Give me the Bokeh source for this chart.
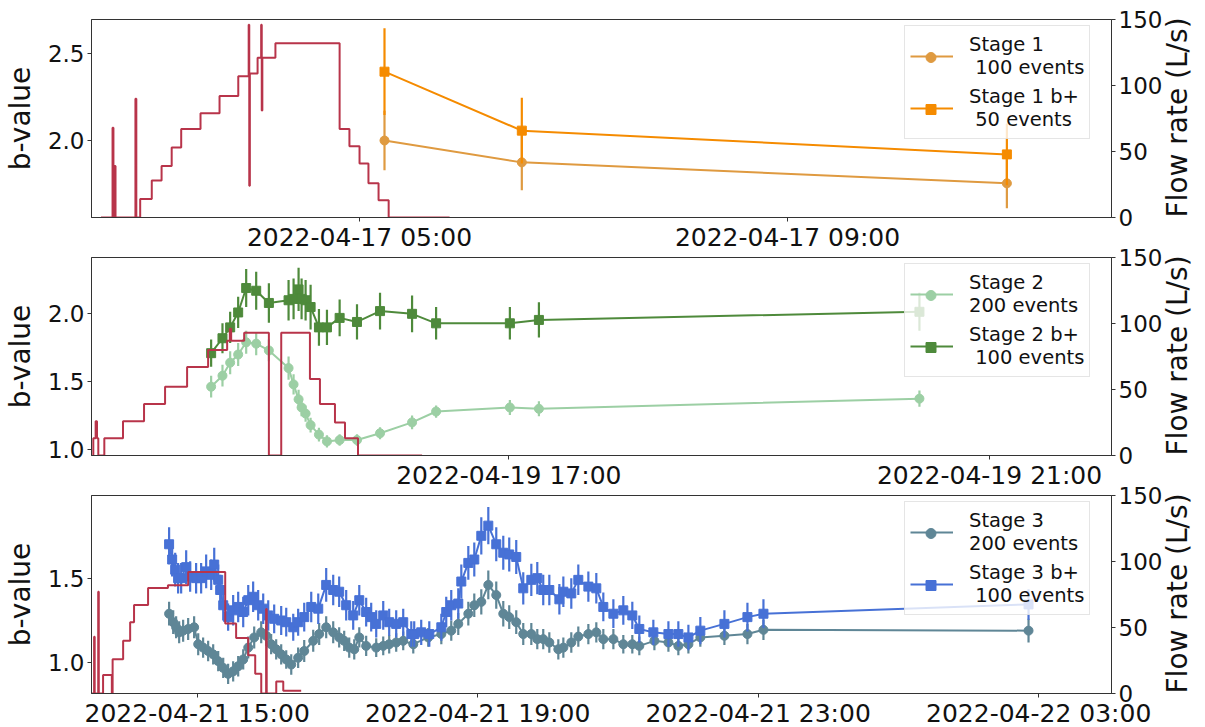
import numpy as np
import pandas as pd
from bokeh.plotting import figure
from bokeh.models import (Range1d, LinearAxis, FixedTicker, SingleIntervalTicker,
                          DatetimeTickFormatter, PrintfTickFormatter, Legend, LegendItem)
from bokeh.layouts import column
from bokeh.embed import file_html
from bokeh.resources import INLINE

FONT = "DejaVu Sans"
FLOW_COLOR = "#b8344a"

# ---------------- Stage 1 (2022-04-17) ----------------
stage1_day = "2022-04-17"
stage1_times = ["05:14", "06:31", "11:03"]
stage1_b = [2.000, 1.874, 1.753]
stage1_err = [0.172, 0.161, 0.144]
stage1_bplus = [2.397, 2.057, 1.920]
stage1_bplus_err = [0.250, 0.190, 0.178]

flow1_times = ["02:35:00", "02:41:30", "02:42:00", "02:42:40", "02:43:10", "02:54:20",
               "02:54:50", "02:57:00", "03:03:30", "03:09:00", "03:14:40", "03:20:00",
               "03:30:50", "03:41:30", "03:52:00", "03:57:50", "03:58:10", "03:58:30",
               "04:02:50", "04:04:50", "04:05:10", "04:05:30", "04:12:50", "04:48:50",
               "04:54:20", "05:00:00", "05:05:00", "05:10:40", "05:16:20", "05:50:30"]
flow1_rate = [0, 68, 0, 39, 0, 90, 0, 14, 28, 39, 53, 67, 79, 92, 107, 146, 24, 109,
              121, 146, 81, 121, 132, 67, 54, 41, 26, 13, 0, 0]

# ---------------- Stage 2 (2022-04-19) ----------------
stage2_day = "2022-04-19"
stage2_times = ["14:31:20", "14:37:00", "14:40:50", "14:44:50", "14:48:50", "14:53:50",
                "15:00:10", "15:10:00", "15:12:30", "15:15:00", "15:16:30", "15:18:30",
                "15:21:00", "15:25:10", "15:29:10", "15:35:30", "15:44:10", "15:55:40",
                "16:11:40", "16:23:40", "17:00:30", "17:15:00", "20:25:00"]
stage2_b = [1.463, 1.544, 1.64, 1.70, 1.79, 1.78, 1.73, 1.60, 1.48, 1.37, 1.31, 1.265,
            1.18, 1.11, 1.06, 1.07, 1.07, 1.12, 1.20, 1.28, 1.31, 1.30, 1.375]
stage2_err = [0.08, 0.08, 0.085, 0.085, 0.085, 0.085, 0.08, 0.085, 0.075, 0.07, 0.065, 0.06,
              0.055, 0.05, 0.045, 0.043, 0.043, 0.045, 0.05, 0.045, 0.055, 0.055, 0.06]
stage2_bplus = [1.71, 1.82, 1.90, 2.01, 2.19, 2.17, 2.08, 2.10, 2.11, 2.18, 2.11, 2.10,
                2.05, 1.90, 1.90, 1.97, 1.94, 2.02, 2.00, 1.93, 1.93, 1.955, 2.015]
stage2_bplus_err = [0.10, 0.11, 0.115, 0.115, 0.14, 0.14, 0.145, 0.15, 0.15, 0.16, 0.15, 0.15,
                    0.165, 0.135, 0.13, 0.135, 0.13, 0.135, 0.135, 0.12, 0.12, 0.13, 0.14]

flow2_times = ["13:32:00", "13:32:30", "13:33:40", "13:34:20", "13:35:00", "13:38:00",
               "13:47:20", "13:57:50", "14:08:20", "14:19:20", "14:29:50", "14:39:20",
               "14:40:40", "14:41:20", "14:47:50", "15:00:10", "15:06:20", "15:20:40",
               "15:25:40", "15:33:10", "15:38:10", "15:44:40", "16:16:40"]
flow2_rate = [0, 13, 26, 13, 0, 13, 26, 39, 52, 67, 80, 87, 96, 87, 93, 0, 93, 58, 39, 25,
              13, 0, 0]

# ---------------- Stage 3 (2022-04-21 / 22) ----------------
stage3_t0 = "2022-04-21 15:00"
# minutes elapsed since stage3_t0
stage3_minutes = [-24.0, -20.5, -18.0, -15.4, -12.0, -7.7, -2.6, 0.9, 5.1, 9.4,
                  13.7, 18.0, 22.3, 26.5, 30.8, 35.1, 39.4, 43.7, 48.8, 54.8,
                  59.1, 63.3, 67.6, 71.9, 76.2, 80.5, 86.4, 91.6, 99.3, 104.4,
                  110.4, 116.4, 121.5, 125.8, 130.1, 134.4, 138.7, 144.6, 153.2, 159.2,
                  164.3, 170.3, 176.3, 184.9, 197.7, 208.9, 217.4, 223.4, 232.0, 237.1,
                  243.1, 249.1, 255.9, 261.9, 267.0, 273.0, 279.0, 285.9, 291.0, 296.1,
                  301.3, 309.0, 313.3, 320.1, 326.1, 334.7, 341.5, 347.5, 356.1, 364.6,
                  372.3, 378.3, 391.2, 403.2, 411.7, 420.3, 430.5, 451.1, 470.8, 484.5,
                  711.3]
stage3_b = [1.29, 1.24, 1.21, 1.18, 1.19, 1.20, 1.21, 1.11, 1.09, 1.07,
            1.05, 1.01, 0.97, 0.935, 0.95, 0.98, 1.02, 1.09, 1.15, 1.18,
            1.16, 1.11, 1.08, 1.05, 1.02, 0.99, 1.03, 1.07, 1.13, 1.17,
            1.21, 1.18, 1.15, 1.13, 1.09, 1.08, 1.15, 1.10, 1.09, 1.10,
            1.11, 1.12, 1.13, 1.11, 1.15, 1.17, 1.19, 1.23, 1.29, 1.34,
            1.36, 1.46, 1.40, 1.29, 1.27, 1.24, 1.17, 1.17, 1.14, 1.14,
            1.12, 1.08, 1.09, 1.12, 1.155, 1.17, 1.18, 1.14, 1.14, 1.11,
            1.11, 1.10, 1.13, 1.12, 1.10, 1.11, 1.15, 1.16, 1.17, 1.195,
            1.19]
stage3_err = [0.07, 0.07, 0.065, 0.065, 0.065, 0.065, 0.065, 0.065, 0.06, 0.06,
              0.06, 0.06, 0.06, 0.06, 0.06, 0.06, 0.06, 0.065, 0.065, 0.065,
              0.06, 0.06, 0.06, 0.06, 0.055, 0.06, 0.06, 0.065, 0.065, 0.065,
              0.065, 0.065, 0.06, 0.06, 0.06, 0.06, 0.06, 0.06, 0.055, 0.055,
              0.055, 0.055, 0.055, 0.055, 0.055, 0.06, 0.06, 0.065, 0.07, 0.07,
              0.075, 0.085, 0.08, 0.075, 0.07, 0.07, 0.065, 0.065, 0.06, 0.06,
              0.06, 0.06, 0.06, 0.06, 0.06, 0.06, 0.06, 0.06, 0.06, 0.055,
              0.055, 0.055, 0.055, 0.055, 0.055, 0.055, 0.055, 0.055, 0.06, 0.06,
              0.07]
stage3_bplus_minutes = [-24.0, -21.4, -18.8, -16.3, -13.7, -9.4, -6.0, -0.9, 3.4, 7.7,
                        12.0, 14.6, 18.0, 19.7, 22.3, 26.5, 30.8, 35.1, 39.4, 43.7,
                        47.9, 52.2, 56.5, 60.8, 65.9, 71.9, 76.2, 82.2, 86.4, 91.6,
                        97.6, 103.6, 110.4, 116.4, 121.5, 127.5, 133.5, 138.7, 144.6, 148.9,
                        153.2, 159.2, 164.3, 170.3, 176.3, 183.2, 185.7, 191.7, 198.6, 208.9,
                        213.1, 217.4, 223.4, 226.0, 232.0, 237.1, 243.1, 249.1, 255.9, 261.9,
                        267.0, 273.0, 279.0, 285.9, 291.0, 296.1, 301.3, 309.9, 313.3, 320.1,
                        326.1, 334.7, 341.5, 347.5, 356.1, 364.6, 372.3, 378.3, 390.3, 403.2,
                        411.7, 420.3, 430.5, 451.1, 470.8, 484.5, 711.3]
stage3_bplus = [1.70, 1.61, 1.55, 1.50, 1.50, 1.565, 1.51, 1.50, 1.50, 1.54,
                1.52, 1.58, 1.49, 1.43, 1.34, 1.27, 1.31, 1.33, 1.30, 1.37,
                1.39, 1.34, 1.32, 1.28, 1.26, 1.25, 1.24, 1.21, 1.24, 1.27,
                1.33, 1.32, 1.46, 1.43, 1.42, 1.34, 1.28, 1.37, 1.30, 1.27,
                1.23, 1.28, 1.24, 1.23, 1.24, 1.17, 1.17, 1.18, 1.17, 1.21,
                1.30, 1.34, 1.35, 1.48, 1.59, 1.61, 1.75, 1.81, 1.70, 1.65,
                1.64, 1.625, 1.44, 1.49, 1.50, 1.43, 1.43, 1.375, 1.42, 1.41,
                1.49, 1.45, 1.44, 1.33, 1.29, 1.31, 1.28, 1.20, 1.18, 1.17,
                1.17, 1.15, 1.19, 1.23, 1.27, 1.29, 1.345]
stage3_bplus_err = [0.10, 0.10, 0.10, 0.09, 0.09, 0.10, 0.09, 0.09, 0.09, 0.10,
                    0.09, 0.10, 0.09, 0.09, 0.09, 0.08, 0.09, 0.09, 0.09, 0.09,
                    0.09, 0.09, 0.09, 0.09, 0.085, 0.085, 0.085, 0.08, 0.08, 0.085,
                    0.09, 0.09, 0.10, 0.09, 0.09, 0.09, 0.085, 0.09, 0.085, 0.085,
                    0.08, 0.085, 0.08, 0.08, 0.08, 0.075, 0.075, 0.075, 0.075, 0.08,
                    0.09, 0.09, 0.09, 0.10, 0.10, 0.10, 0.11, 0.11, 0.10, 0.10,
                    0.10, 0.10, 0.095, 0.095, 0.095, 0.09, 0.09, 0.09, 0.09, 0.09,
                    0.09, 0.09, 0.09, 0.085, 0.085, 0.085, 0.08, 0.08, 0.075, 0.075,
                    0.075, 0.075, 0.08, 0.08, 0.085, 0.085, 0.09]

flow3_day = "2022-04-21"
flow3_times = ["13:30:00", "13:31:50", "13:32:20", "13:35:20", "13:35:50", "13:39:30",
               "13:47:00", "13:47:40", "13:56:40", "14:02:40", "14:06:00", "14:18:00",
               "14:35:00", "14:52:20", "15:24:00", "15:33:20", "15:43:40", "15:49:40",
               "15:54:50", "15:59:00", "15:59:30", "16:07:40", "16:13:40", "16:29:00"]
flow3_rate = [0, 43, 0, 77, 0, 14, 0, 26, 40, 54, 67, 80, 82, 92, 53, 42, 29, 15, 0, 64,
              0, 9, 2, 2]

# ---------------- axes: spans and tick labels ----------------
panel1_span = ("2022-04-17 02:29:42", "2022-04-17 12:01:40")
panel2_span = ("2022-04-19 13:31:36", "2022-04-19 22:00:54")
panel3_span = ("2022-04-21 13:29:36", "2022-04-22 04:02:17")
panel1_ticks = ["2022-04-17 05:00", "2022-04-17 09:00"]
panel2_ticks = ["2022-04-19 17:00", "2022-04-19 21:00"]
panel3_ticks = ["2022-04-21 15:00", "2022-04-21 19:00", "2022-04-21 23:00", "2022-04-22 03:00"]
bvalue_spans = [(1.556, 2.698), (0.956, 2.415), (0.819, 1.988)]

FRAME_W, FRAME_H = 1020, 198


def ms(ts):
    return pd.Timestamp(ts).value / 1e6


def day_times(day, clock):
    return np.array([ms(f"{day} {c}") for c in clock])


def elapsed_times(t0, minutes):
    base = pd.Timestamp(t0)
    return np.array([ms(base + pd.Timedelta(minutes=m)) for m in minutes])


def build_panel(span, ticks, b_span, top, bottom):
    p = figure(frame_width=FRAME_W, frame_height=FRAME_H, x_axis_type="datetime",
               x_range=Range1d(ms(span[0]), ms(span[1])),
               y_range=Range1d(*b_span),
               output_backend="svg", toolbar_location=None,
               min_border_left=90, min_border_right=95,
               min_border_top=top, min_border_bottom=bottom)
    p.extra_y_ranges = {"flow": Range1d(0, 150)}
    flow_axis = LinearAxis(y_range_name="flow", axis_label="Flow rate (L/s)",
                           ticker=SingleIntervalTicker(interval=50))
    # title reads bottom to top, starting from the lower end of the axis
    flow_axis.axis_label_orientation = np.pi / 2
    flow_axis.axis_label_align = "start"
    p.add_layout(flow_axis, "right")
    p.border_fill_color = None
    p.outline_line_color = "#333333"
    p.outline_line_width = 1
    p.xgrid.visible = False
    p.ygrid.visible = False

    fmt = "%Y-%m-%d %H:%M"
    p.xaxis.ticker = FixedTicker(ticks=[ms(t) for t in ticks], minor_ticks=[])
    p.xaxis.formatter = DatetimeTickFormatter(
        milliseconds=fmt, seconds=fmt, minsec=fmt, minutes=fmt, hourmin=fmt,
        hours=fmt, days=fmt, months=fmt, years=fmt, strip_leading_zeros=False)
    p.yaxis[0].ticker = SingleIntervalTicker(interval=0.5)
    p.yaxis[0].formatter = PrintfTickFormatter(format="%.1f")
    p.yaxis[0].axis_label = "b-value"

    for ax in p.xaxis + p.yaxis:
        ax.axis_line_color = "#333333"
        ax.major_tick_line_color = "#333333"
        ax.major_tick_in = 0
        ax.major_tick_out = 4
        ax.minor_tick_out = 0
        ax.minor_tick_in = 0
        ax.major_label_standoff = 3
        ax.major_label_text_font = FONT
        ax.major_label_text_color = "#111111"
        ax.axis_label_text_font = FONT
        ax.axis_label_text_font_style = "normal"
        ax.axis_label_text_font_size = "28px"
        ax.axis_label_text_color = "#111111"
        ax.axis_label_standoff = 8
    for ax in p.yaxis:
        ax.major_label_text_font_size = "23px"
    flow_axis.axis_label_standoff = 12
    p.xaxis.major_label_text_font_size = "25px"
    p.xaxis.major_label_standoff = 1
    return p


def draw_series(p, t, b, err, color, marker, size):
    b = np.asarray(b)
    err = np.asarray(err)
    line = p.line(t, b, line_color=color, line_width=2)
    p.segment(x0=t, y0=b - err, x1=t, y1=b + err, line_color=color, line_width=2.2)
    marks = p.scatter(t, b, marker=marker, size=size, fill_color=color, line_color=color)
    # empty renderer: only used for the error-bar tick in the legend
    tick = p.scatter(x=[], y=[], marker="cross", size=14, line_color=color, line_width=2)
    return line, tick, marks


def draw_flow(p, t, rate):
    p.step(t, rate, mode="after", line_color=FLOW_COLOR, line_width=2, y_range_name="flow")


def add_legend(p, entries):
    common = dict(label_text_font=FONT, label_text_font_size="19.5px",
                  label_text_color="#111111", glyph_height=50, spacing=2,
                  padding=5, label_standoff=16, margin=0)
    base = Legend(items=[LegendItem(label=lab, renderers=[ln, tk]) for lab, ln, tk, mk in entries],
                  location=(813, 78), glyph_width=43,
                  border_line_color="#cccccc", border_line_width=1,
                  background_fill_color="white", background_fill_alpha=0.8, **common)
    # second, transparent legend that puts smaller markers on the same glyph centres
    marks = Legend(items=[LegendItem(label=" ", renderers=[mk]) for lab, ln, tk, mk in entries],
                   location=(822, 78), glyph_width=25,
                   border_line_alpha=0, background_fill_alpha=0, **common)
    p.add_layout(base)
    p.add_layout(marks)


# ---- panel 1 ----
p1 = build_panel(panel1_span, panel1_ticks, bvalue_spans[0], 19, 40)
t1 = day_times(stage1_day, stage1_times)
s1a = draw_series(p1, t1, stage1_b, stage1_err, "#df9a40", "circle", 9)
s1b = draw_series(p1, t1, stage1_bplus, stage1_bplus_err, "#f58b00", "square", 9)
draw_flow(p1, day_times(stage1_day, flow1_times), flow1_rate)
add_legend(p1, [("Stage 1\n 100 events",) + s1a, ("Stage 1 b+\n 50 events",) + s1b])

# ---- panel 2 ----
p2 = build_panel(panel2_span, panel2_ticks, bvalue_spans[1], 18, 40)
t2 = day_times(stage2_day, stage2_times)
s2a = draw_series(p2, t2, stage2_b, stage2_err, "#9ccfa4", "circle", 9)
s2b = draw_series(p2, t2, stage2_bplus, stage2_bplus_err, "#4e8a3b", "square", 9)
draw_flow(p2, day_times(stage2_day, flow2_times), flow2_rate)
add_legend(p2, [("Stage 2\n200 events",) + s2a, ("Stage 2 b+\n 100 events",) + s2b])

# ---- panel 3 ----
p3 = build_panel(panel3_span, panel3_ticks, bvalue_spans[2], 18, 34)
s3a = draw_series(p3, elapsed_times(stage3_t0, stage3_minutes), stage3_b, stage3_err,
                  "#5f8696", "circle", 9)
s3b = draw_series(p3, elapsed_times(stage3_t0, stage3_bplus_minutes), stage3_bplus,
                  stage3_bplus_err, "#4771d6", "square", 9)
draw_flow(p3, day_times(flow3_day, flow3_times), flow3_rate)
add_legend(p3, [("Stage 3\n200 events",) + s3a, ("Stage 3 b+\n 100 events",) + s3b])

p2.margin = (-18, 0, 0, 0)
p3.margin = (-18, 0, 0, 0)
layout = column(p1, p2, p3)

open("out.html", "w").write(file_html(layout, INLINE))
